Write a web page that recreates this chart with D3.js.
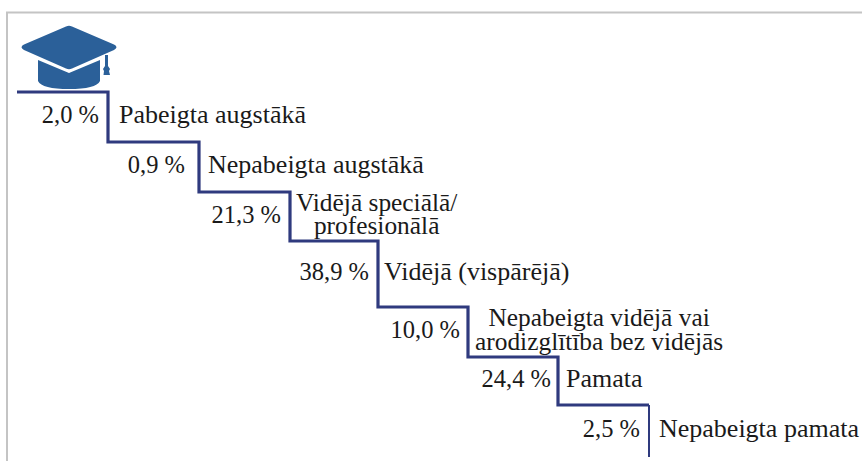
<!DOCTYPE html>
<html style="overflow:hidden;">
<head>
	<meta charset="utf-8">
	<script src="https://cdnjs.cloudflare.com/ajax/libs/d3/7.8.5/d3.min.js" charset="utf-8"></script>
	<style>
		body { margin:0; background:#fff; }
		svg { display:block; }
		text { font-family:"Liberation Serif", serif; fill:#1a1a1a; }
	</style>
</head>
<body>
<div id="chart"></div>
<script>
var categories = ["Pabeigta augstākā", "Nepabeigta augstākā", "Vidējā speciālā/\nprofesionālā", "Vidējā (vispārējā)", "Nepabeigta vidējā vai\narodizglītība bez vidējās", "Pamata", "Nepabeigta pamata"];
var shares = [2.0, 0.9, 21.3, 38.9, 10.0, 24.4, 2.5];

var width = 862, height = 461;

var svg = d3.select("#chart").append("svg")
    .attr("width", width)
    .attr("height", height);

// light frame, only top and left are visible in the crop
svg.append("path")
    .attr("d", "M7," + height + "V12.5H" + width)
    .attr("fill", "none")
    .attr("stroke", "#c4c4c4")
    .attr("stroke-width", 2);

// stair edges, one per category (rows are not all the same height)
var x = d3.scaleOrdinal().domain(categories).range([108, 199, 290, 378, 468, 558, 649]);
var yTop = d3.scaleOrdinal().domain(categories).range([92, 142, 192, 241, 307, 357, 405]);
var yBottom = d3.scaleOrdinal().domain(categories).range([142, 192, 241, 307, 357, 405, 457]);
var valueRight = d3.scaleOrdinal().domain(categories).range([99, 185, 281, 369, 460, 551, 640]);
var nameLeft = d3.scaleOrdinal().domain(categories).range([119, 208, 296, 384, 475, 566, 659]);

var stairs = [[17, yTop(categories[0])]];
categories.forEach(function(c) {
  stairs.push([x(c), yTop(c)]);
  stairs.push([x(c), yBottom(c)]);
});
var last = stairs.length - 1;

svg.append("path")
    .attr("d", d3.line()(stairs.slice(0, last)))
    .attr("fill", "none")
    .attr("stroke", "#2f3a7e")
    .attr("stroke-width", 3.2);

// the last riser is thinner in the original
svg.append("path")
    .attr("d", d3.line()(stairs.slice(last - 1)))
    .attr("fill", "none")
    .attr("stroke", "#2f3a7e")
    .attr("stroke-width", 2);

function fmt(v) {
  return v.toFixed(1).replace(".", ",") + " %";
}

function midY(c) {
  return (yTop(c) + yBottom(c)) / 2 + 6;
}

var rows = svg.selectAll("g.row")
    .data(categories)
  .enter().append("g")
    .attr("class", "row");

rows.append("text")
    .attr("x", function(c) { return valueRight(c); })
    .attr("y", midY)
    .attr("text-anchor", "end")
    .style("font-size", "24.5px")
    .text(function(c, i) { return fmt(shares[i]); });

rows.each(function(c) {
  var lines = c.split("\n");
  var size = lines.length > 1 ? 25.4 : 26;
  var w = d3.max(lines, function(l) { return measure(l, size); });
  var t = d3.select(this).append("text")
      .attr("text-anchor", "middle")
      .style("font-size", size + "px");
  lines.forEach(function(l, i) {
    t.append("tspan")
        .attr("x", nameLeft(c) + w / 2)
        .attr("y", midY(c) + (i - (lines.length - 1) / 2) * 23.5)
        .text(l);
  });
});

function measure(s, size) {
  var p = svg.append("text").style("font-size", size + "px").text(s);
  var w = p.node().getComputedTextLength();
  p.remove();
  return w;
}

// graduation cap icon
var cap = svg.append("g").attr("fill", "#2b6099");
cap.append("path")
    .attr("d", "M66,26.5 Q69,25 72,26.5 L114,44.5 Q119,47 114,50 L72,68.5 Q69,70 66,68.5 L24,50 Q19,47 24,44.5 Z");
cap.append("path")
    .attr("d", "M38,60 L69,73 L100,60 V81 Q96,89 69,89 Q42,89 38,81 Z");
cap.append("path")
    .attr("d", "M105,55 H108 V66 L110,69 L109,71 L110,75 H103.5 L104,71 L103,69 L105,66 Z");
</script>
</body>
</html>
